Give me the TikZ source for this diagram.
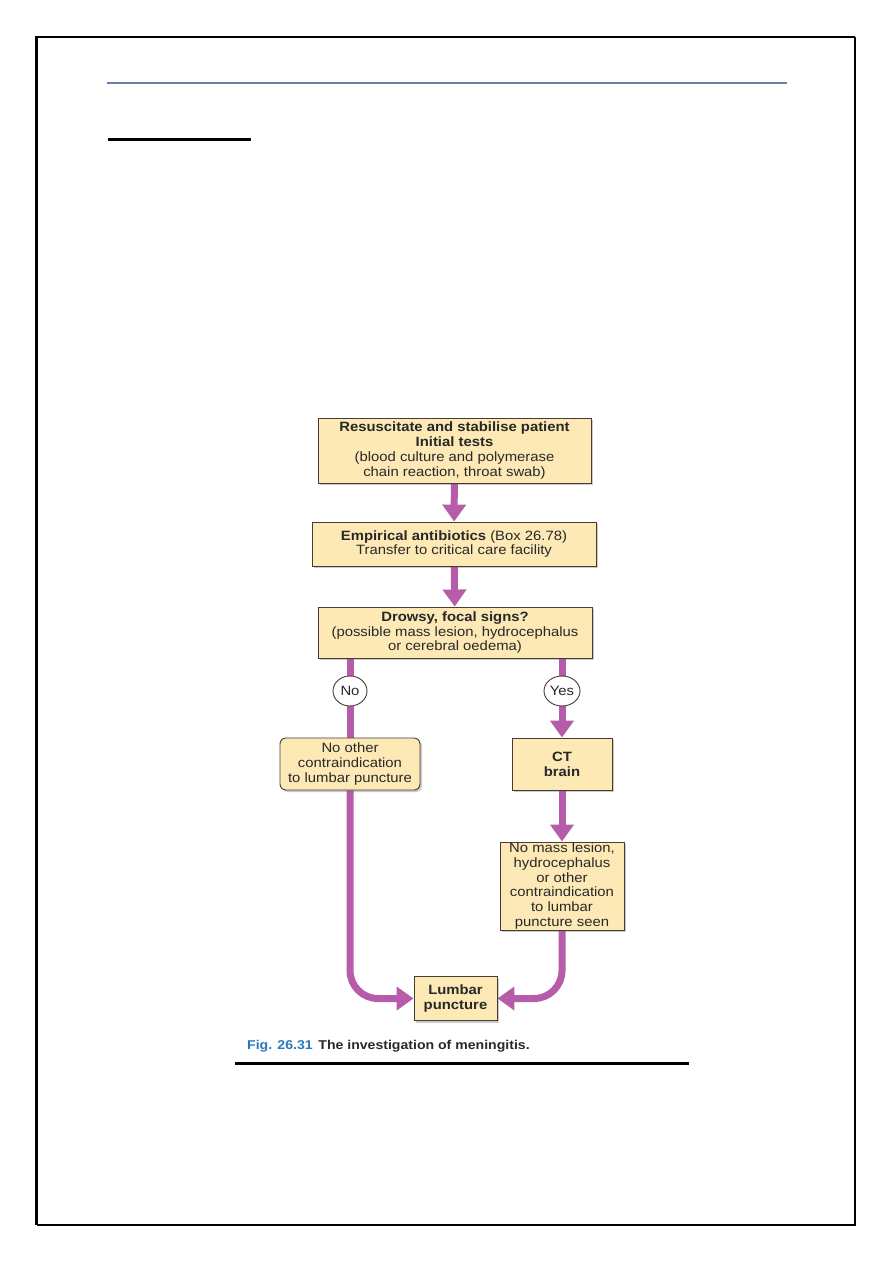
\documentclass[tikz,border=0pt]{standalone}
\usepackage{fontspec}
\setmainfont{Liberation Sans}[FakeStretch=1.1]
\usetikzlibrary{shadows,arrows.meta,backgrounds,shapes.geometric}
\definecolor{boxfill}{RGB}{252,233,182}
\definecolor{boxline}{RGB}{70,60,50}
\definecolor{flowc}{RGB}{183,92,170}
\definecolor{figblue}{RGB}{40,120,190}
\definecolor{txt}{RGB}{40,40,40}
\definecolor{topline}{RGB}{100,130,165}
\tikzset{
  fbox/.style={draw=boxline, line width=0.9pt, fill=boxfill, align=center, inner sep=1pt,
    font=\fontsize{13.5}{14.7}\selectfont, text=txt,
    drop shadow={shadow xshift=2pt, shadow yshift=-2pt, opacity=0.35, fill=black!60}},
  decision/.style={draw=boxline, line width=0.9pt, fill=white, ellipse, inner sep=0pt,
    font=\fontsize{13.5}{14.7}\selectfont, text=txt},
  flow/.style={draw=flowc, line width=7pt},
  flowarrow/.style={flow, -{Triangle[length=17pt,width=23pt]}},
}
\begin{document}
\begin{tikzpicture}[x=1pt,y=-1pt]
\useasboundingbox (0,0) rectangle (893,1263);
% page frame
\draw[line width=2.6pt] (36.5,1225) -- (36.5,37) -- (855,37);
\draw[line width=1.6pt] (855,37) -- (855,1225) -- (36.5,1225);
\draw[topline, line width=1.2pt] (107,83) -- (787,83);
\draw[line width=3pt] (108,139) -- (251,139);

% nodes
\node[fbox, minimum width=273pt, minimum height=65pt] (init) at (454.5,450.5)
  {\textbf{Resuscitate and stabilise patient}\\\textbf{Initial tests}\\(blood culture and polymerase\\chain reaction, throat swab)};
\node[fbox, minimum width=284pt, minimum height=44pt] (emp) at (454,544)
  {\textbf{Empirical antibiotics} (Box 26.78)\\Transfer to critical care facility};
\node[fbox, minimum width=274pt, minimum height=51pt] (drowsy) at (455,632.5)
  {\textbf{Drowsy, focal signs?}\\(possible mass lesion, hydrocephalus\\or cerebral oedema)};
\node[fbox, rounded corners=6pt, minimum width=140pt, minimum height=52pt] (other) at (350,764)
  {No other\\contraindication\\to lumbar puncture};
\node[fbox, minimum width=100pt, minimum height=52pt] (ct) at (562,764)
  {\textbf{CT}\\\textbf{brain}};
\node[fbox, minimum width=124pt, minimum height=88pt] (nomass) at (562,886)
  {No mass lesion,\\hydrocephalus\\or other\\contraindication\\to lumbar\\puncture seen};
\node[fbox, minimum width=83pt, minimum height=44pt] (lp) at (455.5,998.5)
  {\textbf{Lumbar}\\\textbf{puncture}};
\node[decision, minimum width=34pt, minimum height=30pt] (no) at (350,691) {No};
\node[decision, minimum width=36pt, minimum height=30pt] (yes) at (562,691) {Yes};

% caption
\node[anchor=west, inner sep=0pt, font=\bfseries\fontsize{12.8}{15}\selectfont] (cap) at (247,1046)
  {\textcolor{figblue}{Fig. 26.31}\hspace{0.45em}\textcolor{txt}{The investigation of meningitis.}};
\draw[line width=3pt] (235,1063) -- (689,1063);

% connectors
\begin{scope}[on background layer]
\draw[flowarrow] (init) -- (emp);
\draw[flowarrow] (emp) -- (drowsy);
\draw[flow] (drowsy.south -| no) -- (no) -- (other);
\draw[flowarrow] (drowsy.south -| yes) -- (yes) -- (ct);
\draw[flowarrow] (ct) -- (nomass);
\draw[flowarrow, rounded corners=28pt] (other.south) |- (lp.west);
\draw[flowarrow, rounded corners=28pt] (nomass.south) |- (lp.east);
\end{scope}
\end{tikzpicture}
\end{document}
